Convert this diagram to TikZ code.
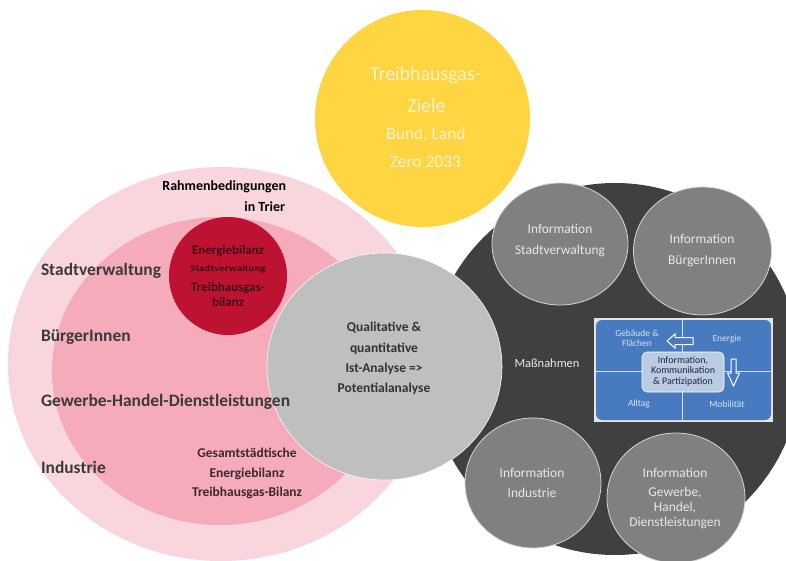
\documentclass[tikz,border=0pt]{standalone}
\usepackage{fontspec}
\setmainfont{Carlito}
\definecolor{pinkO}{RGB}{249,214,222}
\definecolor{pinkI}{RGB}{245,171,185}
\definecolor{redc}{RGB}{190,18,50}
\definecolor{yell}{RGB}{255,213,66}
\definecolor{darkc}{RGB}{64,64,64}
\definecolor{midg}{RGB}{128,128,128}
\definecolor{edgeg}{RGB}{215,215,215}
\definecolor{centg}{RGB}{191,191,191}
\definecolor{bluec}{RGB}{72,122,192}
\definecolor{lblue}{RGB}{186,203,228}
\definecolor{framec}{RGB}{225,228,232}
\definecolor{qtext}{RGB}{214,226,242}
\definecolor{lbltext}{RGB}{58,58,58}
\definecolor{redtext}{RGB}{62,10,22}
\definecolor{pinktext}{RGB}{62,40,46}
\definecolor{yelltext}{RGB}{255,243,204}
\definecolor{greytext}{RGB}{232,232,232}
\definecolor{boxtext}{RGB}{30,40,58}
\begin{document}
\begin{tikzpicture}[x=1bp,y=-1bp,
  every node/.style={inner sep=0pt, outer sep=0pt},
  sidelbl/.style={font=\fontsize{17.5}{21}\selectfont\bfseries, text=lbltext, anchor=west},
  rahmen/.style={font=\fontsize{14}{17}\selectfont\bfseries, text=black, anchor=east},
  redtxt/.style={font=\fontsize{13}{15}\selectfont\bfseries, text=redtext, align=center},
  pinktxt/.style={font=\fontsize{13.5}{19.5}\selectfont\bfseries, text=pinktext, align=center},
  centtxt/.style={font=\fontsize{13.5}{20.3}\selectfont\bfseries, text=black!80, align=center},
  yellbig/.style={font=\fontsize{20}{24}\selectfont, text=yelltext},
  yellsmall/.style={font=\fontsize{17.5}{21}\selectfont, text=yelltext},
  infotxt/.style={font=\fontsize{13.5}{20.5}\selectfont, text=greytext, align=center},
  quadtxt/.style={font=\fontsize{9.5}{10}\selectfont, text=qtext, align=center},
  boxtxt/.style={font=\fontsize{10}{10.5}\selectfont, text=boxtext, align=center},
  infocirc/.style={fill=midg, draw=edgeg, line width=0.8bp},
  hollowarrow/.style={fill=bluec, draw=white, line width=1bp, line join=miter}
]
\useasboundingbox (0,0) rectangle (786,561);
\clip (0,0) rectangle (786,561);
\fill[white] (0,0) rectangle (786,561);

% left concentric areas
\fill[pinkO] (221,364) ellipse [x radius=213bp, y radius=197bp];
\fill[pinkI] (220,371) ellipse [x radius=168bp, y radius=154bp];
\fill[redc] (228,276) circle [radius=59bp];

% yellow goal circle
\fill[yell] (422.5,118.5) ellipse [x radius=107.5bp, y radius=108.5bp];

% dark measures circle
\fill[darkc] (615,369) circle [radius=186bp];
\filldraw[infocirc] (560,244) ellipse [x radius=68bp, y radius=61bp];
\filldraw[infocirc] (702.5,251) ellipse [x radius=69bp, y radius=64bp];
\filldraw[infocirc] (533,483) ellipse [x radius=68bp, y radius=65bp];
\filldraw[infocirc] (676,498) ellipse [x radius=69bp, y radius=65bp];

% central analysis circle
\filldraw[fill=centg, draw=white!90!centg, line width=0.6bp] (384.5,366.5) ellipse [x radius=117.5bp, y radius=113.5bp];

% blue box
\fill[framec] (594,318) rectangle (773,422);
\fill[bluec, rounded corners=6bp] (596,320) rectangle (771,420);
\draw[qtext, line width=0.9bp] (682,320) -- (682,420);
\draw[qtext, line width=0.9bp] (596,371) -- (771,371);
\filldraw[fill=lblue, draw=white, line width=0.6bp, rounded corners=5bp] (642,352) rectangle (724,392);
\filldraw[hollowarrow] (667,341) -- (675,334) -- (675,337.5) -- (693,337.5) -- (693,344.5) -- (675,344.5) -- (675,348) -- cycle;
\filldraw[hollowarrow] (733.5,386) -- (727.5,373) -- (731,373) -- (731,359) -- (736,359) -- (736,373) -- (739.5,373) -- cycle;

% texts
\node[sidelbl] (sv) at (41,271) {Stadtverwaltung};
\node[sidelbl] (bi) at (41,337) {BürgerInnen};
\node[sidelbl] (ghd) at (41,402) {Gewerbe-Handel-Dienstleistungen};
\node[sidelbl] (ind) at (41,467) {Industrie};

\node[rahmen] (rb) at (286,187) {Rahmenbedingungen};
\node[rahmen] (rt) at (285,207) {in Trier};

\node[redtxt] (eb) at (228,251) {Energiebilanz};
\node[font=\fontsize{9}{10}\selectfont\bfseries, text=redtext] (ebsv) at (228,269) {\scalebox{1.22}[1]{Stadtverwaltung}};
\node[redtxt] (thg) at (228,294.5) {Treibhausgas-\\bilanz};

\node[pinktxt] (ges) at (247,473.5) {Gesamtstädtische\\Energiebilanz\\Treibhausgas-Bilanz};

\node[centtxt] (ana) at (384,358.5) {Qualitative \&\\quantitative\\Ist-Analyse =>\\Potentialanalyse};

\node[yellbig] (y1) at (425.5,75) {Treibhausgas-};
\node[yellbig] (y2) at (426.5,106) {Ziele};
\node[yellsmall] (y3) at (426,135) {Bund, Land};
\node[yellsmall] (y4) at (425.5,162) {Zero 2033};

\node[font=\fontsize{12.5}{15}\selectfont, text=greytext] (mass) at (547,363) {Maßnahmen};

\node[infotxt] (isv) at (560,240.5) {Information\\Stadtverwaltung};
\node[infotxt] (ibi) at (702,250.5) {Information\\BürgerInnen};
\node[infotxt] (iind) at (532,483) {Information\\Industrie};
\node[infotxt] (ighd1) at (675,473) {Information};
\node[infotxt, font=\fontsize{13.5}{15}\selectfont] (ighd2) at (675,508) {Gewerbe,\\Handel,\\Dienstleistungen};

\node[quadtxt] (qg) at (637,338.5) {Gebäude \&\\Flächen};
\node[quadtxt] (qe) at (727,339) {Energie};
\node[quadtxt] (qa) at (639,404) {Alltag};
\node[quadtxt] (qm) at (727,404) {Mobilität};
\node[boxtxt] (ikp) at (683,371) {Information,\\Kommunikation\\\& Partizipation};
\end{tikzpicture}
\end{document}
